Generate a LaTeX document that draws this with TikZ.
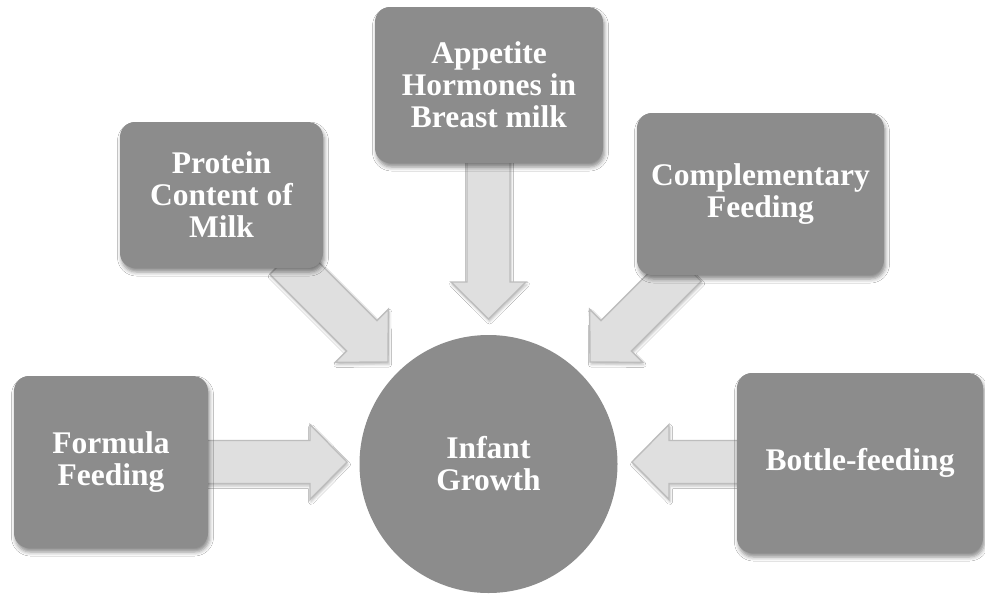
\documentclass[tikz,border=0pt]{standalone}
\usepackage{fontspec}
\setmainfont{Liberation Serif}
\usetikzlibrary{calc,shadows.blur}
\definecolor{boxgray}{HTML}{8C8C8C}
\definecolor{arrowfill}{HTML}{DFDFDF}
\definecolor{arrowline}{HTML}{BDBDBD}
\tikzset{
  boxnode/.style={rounded corners=15pt, fill=boxgray, draw=none, text=white,
    align=center, font=\bfseries\fontsize{31.5}{32}\selectfont, inner sep=4pt,
    blur shadow={shadow xshift=1.5pt, shadow yshift=-4pt, shadow blur radius=4pt, shadow opacity=45}},
  circnode/.style={circle, fill=boxgray, draw=none, text=white, align=center,
    font=\bfseries\fontsize{31.5}{32}\selectfont, inner sep=0pt},
  blockarr/.style={fill=arrowfill, draw=arrowline, line width=1.4pt, line join=miter,
    blur shadow={shadow xshift=1pt, shadow yshift=-2.5pt, shadow blur radius=2.5pt, shadow opacity=25}}
}
\newcommand\blockarrow[2]{%
  \path[blockarr]
    ($(#1)!21.5pt!90:(#2)$)
    -- ($($(#2)!37pt!(#1)$)!21.5pt!-90:(#1)$)
    -- ($($(#2)!37pt!(#1)$)!37.5pt!-90:(#1)$)
    -- (#2)
    -- ($($(#2)!37pt!(#1)$)!37.5pt!90:(#1)$)
    -- ($($(#2)!37pt!(#1)$)!21.5pt!90:(#1)$)
    -- ($(#1)!21.5pt!-90:(#2)$)
    -- cycle;}
\begin{document}
\begin{tikzpicture}[x=1pt,y=-1pt]
\useasboundingbox[fill=white] (0,0) rectangle (985,595);
% named arrow ends
\coordinate (fs) at (200,462);
\coordinate (ft) at (347,462);
\coordinate (bs) at (745,462);
\coordinate (bt) at (632,462);
\coordinate (as) at (488.5,155);
\coordinate (at) at (488.5,319);
\coordinate (ps) at (285,259);
\coordinate (pt) at (388,362);
\coordinate (cs) at (686,266);
\coordinate (ct) at (590,362);
% arrows (behind boxes)
\blockarrow{fs}{ft}
\blockarrow{bs}{bt}
\blockarrow{as}{at}
\blockarrow{ps}{pt}
\blockarrow{cs}{ct}
% boxes
\node[boxnode, minimum width=194pt, minimum height=172pt] (formula) at (111,462) {Formula\\Feeding};
\node[boxnode, minimum width=203pt, minimum height=146pt] (protein) at (221.5,195) {Protein\\Content of\\Milk};
\node[boxnode, minimum width=228pt, minimum height=156pt] (appetite) at (489,85) {Appetite\\Hormones in\\Breast milk};
\node[boxnode, minimum width=247pt, minimum height=162pt] (compl) at (760.5,194) {Complementary\\Feeding};
\node[boxnode, minimum width=246pt, minimum height=180pt] (bottle) at (860,463) {Bottle-feeding};
\node[circnode, minimum size=258pt] (growth) at (488.5,464) {Infant\\Growth};
\end{tikzpicture}
\end{document}
